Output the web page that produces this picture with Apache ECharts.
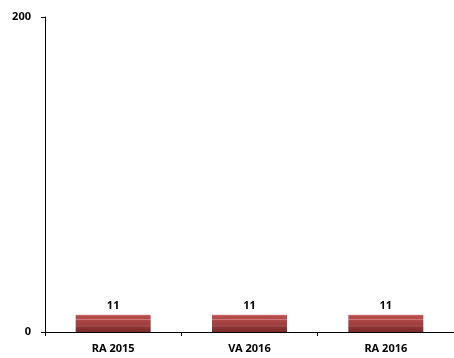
<!DOCTYPE html>
<html>
<head>
<meta charset="utf-8">
<script src="https://cdn.jsdelivr.net/npm/echarts@6/dist/echarts.min.js"></script>
<style>
  html, body { margin: 0; padding: 0; background: #fff; }
  #chart { width: 454px; height: 358px; }
</style>
</head>
<body>
<div id="chart"></div>
<script>
// Categories and values
const categories = ['RA 2015', 'VA 2016', 'RA 2016'];
const values = [11, 11, 11];
const yTicks = [0, 200];

const chart = echarts.init(document.getElementById('chart'));

// Striped dark-red fill for the bars
const barFill = new echarts.graphic.LinearGradient(0, 0, 0, 1, [
  { offset: 0.00, color: '#d98a8a' },
  { offset: 0.07, color: '#b84f4f' },
  { offset: 0.26, color: '#b04848' },
  { offset: 0.28, color: '#cf7c7c' },
  { offset: 0.34, color: '#a94343' },
  { offset: 0.62, color: '#9c3c3c' },
  { offset: 0.64, color: '#c06a6a' },
  { offset: 0.70, color: '#8e3535' },
  { offset: 1.00, color: '#7a2a2a' }
]);

const font = '"Noto Sans", "Open Sans", "Liberation Sans", sans-serif';

chart.setOption({
  animation: false,
  grid: { left: 45, right: -7, top: 17, bottom: 26, containLabel: false },
  xAxis: {
    type: 'category',
    data: categories,
    axisLine: { lineStyle: { color: '#000', width: 1 } },
    axisTick: { show: true, alignWithLabel: false, length: 4, inside: false, lineStyle: { color: '#000' } },
    axisLabel: { color: '#000', fontFamily: font, fontWeight: 'bold', fontSize: 11, margin: 11 }
  },
  yAxis: {
    type: 'value',
    min: yTicks[0],
    max: yTicks[yTicks.length - 1],
    interval: 200,
    axisLine: { show: true, lineStyle: { color: '#000', width: 1 } },
    axisTick: { show: true, length: 4, lineStyle: { color: '#000' } },
    splitLine: { show: false },
    axisLabel: { color: '#000', fontFamily: font, fontWeight: 'bold', fontSize: 11, margin: 14 }
  },
  series: [{
    type: 'bar',
    data: values,
    barWidth: '55%',
    itemStyle: { color: barFill },
    label: {
      show: true,
      position: 'top',
      distance: 3,
      color: '#000',
      fontFamily: font,
      fontWeight: 'bold',
      fontSize: 11
    }
  }]
});
</script>
</body>
</html>
